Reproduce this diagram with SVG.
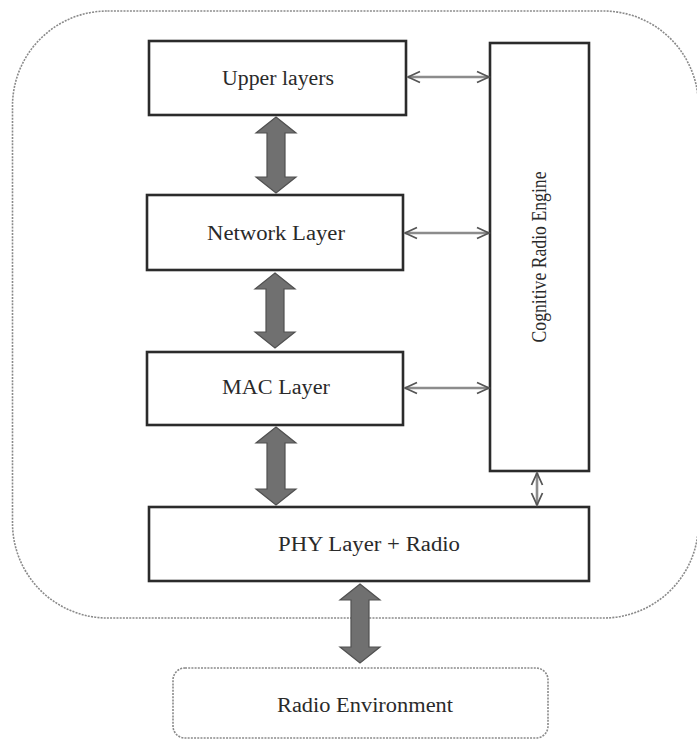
<svg xmlns="http://www.w3.org/2000/svg" width="697" height="740" viewBox="0 0 697 740">
  <style>
    .frame { fill: none; stroke: #8a8a8a; stroke-width: 1.6; stroke-dasharray: 2 1.2; }
    .box { fill: #ffffff; stroke: #2b2b2b; stroke-width: 2.6; }
    .label { font-family: "Liberation Serif", "Times New Roman", serif; font-size: 20px; fill: #2a2a2a; text-anchor: middle; }
    .thick { fill: #707070; stroke: #505050; stroke-width: 1.2; stroke-linejoin: miter; }
    .thin { fill: none; stroke: #8c8c8c; stroke-width: 2.6; marker-start: url(#chev); marker-end: url(#chev); }
  </style>
  <defs>
    <marker id="chev" viewBox="-14 -7 16 14" markerWidth="16" markerHeight="14" refX="0" refY="0" orient="auto-start-reverse" markerUnits="userSpaceOnUse">
      <path d="M -12 -5.5 L 0 0 L -12 5.5" fill="none" stroke="#555555" stroke-width="1.8"/>
    </marker>
  </defs>

  <rect width="697" height="740" fill="#ffffff"/>

  <!-- device boundary -->
  <rect id="device-frame" class="frame" x="12.5" y="11" width="686" height="607" rx="95" ry="95"/>

  <g id="upper-layers">
    <rect class="box" x="149" y="41" width="257" height="74"/>
    <text class="label" x="278" y="85" textLength="112" lengthAdjust="spacingAndGlyphs">Upper layers</text>
  </g>

  <g id="network-layer">
    <rect class="box" x="147" y="195" width="256" height="75"/>
    <text class="label" x="276" y="240" textLength="138" lengthAdjust="spacingAndGlyphs">Network Layer</text>
  </g>

  <g id="mac-layer">
    <rect class="box" x="147" y="352" width="256" height="73"/>
    <text class="label" x="276" y="394" textLength="108" lengthAdjust="spacingAndGlyphs">MAC Layer</text>
  </g>

  <g id="phy-layer">
    <rect class="box" x="149" y="507" width="440" height="74"/>
    <text class="label" x="369" y="551" textLength="182" lengthAdjust="spacingAndGlyphs">PHY Layer + Radio</text>
  </g>

  <g id="cognitive-engine">
    <rect class="box" x="490" y="43" width="99" height="428"/>
    <text class="label" transform="translate(546 257) rotate(-90)" x="0" y="0" font-size="18" textLength="171" lengthAdjust="spacingAndGlyphs">Cognitive Radio Engine</text>
  </g>

  <g id="radio-environment">
    <rect class="frame" x="173" y="668" width="375" height="70" rx="12" ry="12"/>
    <text class="label" x="365" y="712" textLength="176" lengthAdjust="spacingAndGlyphs">Radio Environment</text>
  </g>

  <g id="connectors">
    <!-- wide double arrows along the protocol stack -->
    <polygon class="thick" points="276,117 296,133 285,133 285,177 296,177 276,193 256,177 267,177 267,133 256,133"/>
    <polygon class="thick" points="275,273 295,289 284,289 284,332 295,332 275,348 255,332 266,332 266,289 255,289"/>
    <polygon class="thick" points="276,427 296,443 285,443 285,489 296,489 276,505 256,489 267,489 267,443 256,443"/>
    <polygon class="thick" points="360,584 380,600 369,600 369,647 380,647 360,663 340,647 351,647 351,600 340,600"/>

    <!-- control links to the cognitive engine -->
    <line class="thin" x1="408" y1="77" x2="489" y2="77"/>
    <line class="thin" x1="405" y1="233" x2="489" y2="233"/>
    <line class="thin" x1="405" y1="388" x2="489" y2="388"/>
    <line class="thin" x1="537" y1="473" x2="537" y2="505"/>
  </g>
</svg>
